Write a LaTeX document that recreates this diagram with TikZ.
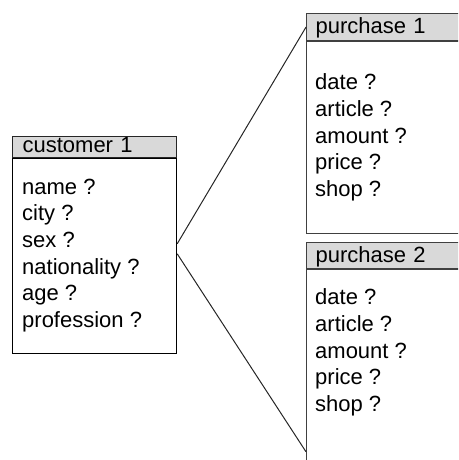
\documentclass[tikz,border=0pt]{standalone}
\usepackage{fontspec}
\setmainfont{Liberation Sans}
\usetikzlibrary{positioning}

\tikzset{
  entityhead/.style={draw=black!75, fill=gray!30, line width=1.2pt, anchor=north west,
    text width=150pt, inner xsep=9pt, inner ysep=0pt, align=left},
  entitybody/.style={draw=black!75, fill=white, line width=1.2pt, inner sep=0pt},
  fields/.style={anchor=base west, inner sep=0pt, align=left},
  link/.style={line width=1pt, black!85}
}

\begin{document}
\begin{tikzpicture}[x=1pt, y=-1pt, font=\fontsize{22pt}{26.6pt}\selectfont]
\useasboundingbox (0,0) rectangle (458,460);
\clip (0,0) rectangle (458,460);

% customer
\node[entityhead, draw=black!85, text width=144pt, inner xsep=10pt, text height=16pt, text depth=5pt]
  (custhead) at (12,136) {customer 1};
\node[entitybody, draw=black, below=0pt of custhead, minimum width=164pt, minimum height=195pt] (custbody) {};
% base anchor sits on the last line
\node[fields] (custfields) at ([xshift=10pt, yshift=-169pt]custbody.north west)
  {name ?\\ city ?\\ sex ?\\ nationality ?\\ age ?\\ profession ?};

% purchases
\node[entityhead, text height=19.5pt, text depth=7.5pt] (phead1) at (306,13) {purchase 1};
\node[entitybody, below=0pt of phead1, minimum width=168pt, minimum height=192pt] (pbody1) {};
\node[fields] (pfields1) at ([xshift=9pt, yshift=-155pt]pbody1.north west)
  {date ?\\ article ?\\ amount ?\\ price ?\\ shop ?};

\node[entityhead, text height=19.5pt, text depth=6.5pt] (phead2) at (306,242) {purchase 2};
\node[entitybody, below=0pt of phead2, minimum width=168pt, minimum height=232pt] (pbody2) {};
\node[fields] (pfields2) at ([xshift=9pt, yshift=-142pt]pbody2.north west)
  {date ?\\ article ?\\ amount ?\\ price ?\\ shop ?};

% links
\draw[link] ([yshift=12.5pt]custbody.east) -- (phead1.west);
\draw[link] ([yshift=2.5pt]custbody.east) -- ([yshift=-66pt]pbody2.west);
\end{tikzpicture}
\end{document}
